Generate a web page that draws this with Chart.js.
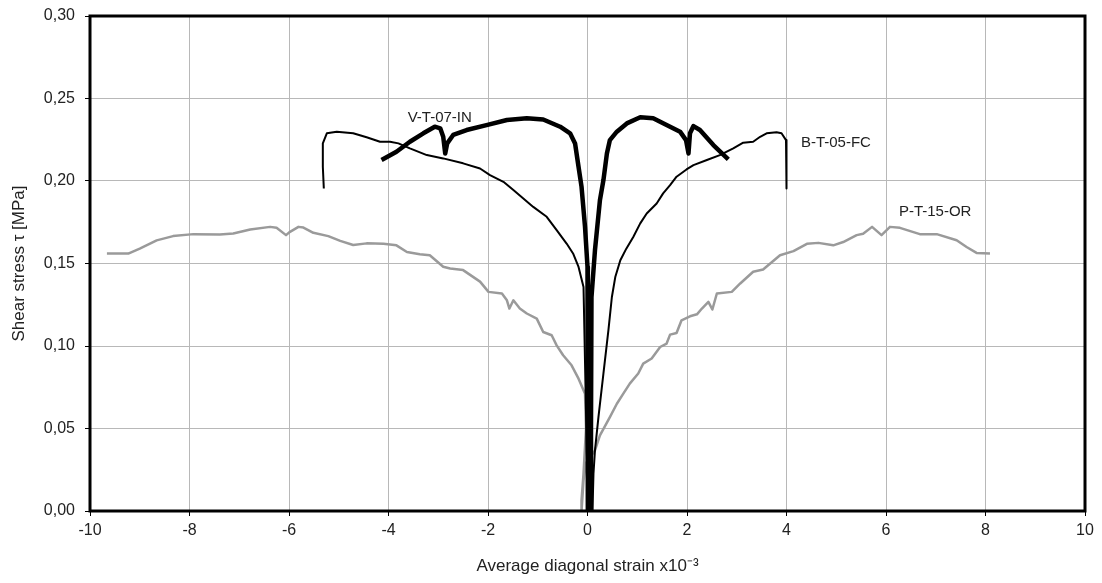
<!DOCTYPE html>
<html>
<head>
<meta charset="utf-8">
<script src="https://cdn.jsdelivr.net/npm/chart.js@4.4.1/dist/chart.umd.min.js"></script>
<style>
    html, body { margin: 0; padding: 0; background: #fff; }
    #wrap { width: 1102px; height: 583px; }
</style>
</head>
<body>
<div id="wrap"><canvas id="stressChart"></canvas></div>
<script>
// Axis ticks
const xTicks = [-10, -8, -6, -4, -2, 0, 2, 4, 6, 8, 10];
const yTicks = [0, 0.05, 0.10, 0.15, 0.20, 0.25, 0.30];

// V-T-07-IN (thick black): [strain x10^-3, stress MPa]
const vt07 = [
    [-4.14, 0.2127], [-3.84, 0.2177], [-3.57, 0.2238], [-3.30, 0.2289], [-3.07, 0.2329],
    [-2.96, 0.2319], [-2.90, 0.2268], [-2.86, 0.2167], [-2.82, 0.2228], [-2.70, 0.2279],
    [-2.43, 0.2309], [-2.03, 0.2339], [-1.62, 0.2370], [-1.22, 0.2380], [-0.89, 0.2373],
    [-0.55, 0.2329], [-0.35, 0.2289], [-0.25, 0.2228], [-0.18, 0.2086], [-0.12, 0.1965],
    [-0.05, 0.1722], [0.00, 0.1480], [0.01, 0.0800], [0.00, 0.0120], [0.01, 0.0000],
    [0.06, 0.0000], [0.07, 0.0500], [0.08, 0.1297], [0.15, 0.1580], [0.25, 0.1884],
    [0.32, 0.2005], [0.39, 0.2167], [0.45, 0.2248], [0.59, 0.2299], [0.79, 0.2349],
    [1.06, 0.2386], [1.32, 0.2380], [1.59, 0.2339], [1.86, 0.2299], [1.98, 0.2248],
    [2.03, 0.2167], [2.06, 0.2289], [2.13, 0.2333], [2.26, 0.2309], [2.53, 0.2218],
    [2.83, 0.2131]
];

// B-T-05-FC (thin black)
const bt05 = [
    [-5.30, 0.1955], [-5.32, 0.2086], [-5.32, 0.2228], [-5.24, 0.2289], [-5.04, 0.2299],
    [-4.71, 0.2289], [-4.44, 0.2265], [-4.17, 0.2238], [-3.97, 0.2238], [-3.80, 0.2228],
    [-3.57, 0.2198], [-3.23, 0.2157], [-2.90, 0.2137], [-2.50, 0.2107], [-2.16, 0.2076],
    [-1.96, 0.2036], [-1.69, 0.1995], [-1.49, 0.1945], [-1.09, 0.1843], [-0.82, 0.1783],
    [-0.62, 0.1702], [-0.42, 0.1621], [-0.29, 0.1561], [-0.18, 0.1479], [-0.08, 0.1358],
    [-0.03, 0.0600], [0.00, 0.0200], [0.02, 0.0000], [0.10, 0.0000], [0.12, 0.0226],
    [0.15, 0.0367], [0.22, 0.0569], [0.32, 0.0833], [0.42, 0.1095], [0.49, 0.1297],
    [0.56, 0.1420], [0.66, 0.1520], [0.78, 0.1590], [0.92, 0.1661], [1.06, 0.1743],
    [1.19, 0.1803], [1.39, 0.1864], [1.52, 0.1925], [1.66, 0.1975], [1.79, 0.2026],
    [1.99, 0.2070], [2.13, 0.2096], [2.40, 0.2127], [2.66, 0.2157], [2.93, 0.2198],
    [3.13, 0.2232], [3.33, 0.2238], [3.47, 0.2268], [3.60, 0.2289], [3.80, 0.2295],
    [3.90, 0.2289], [3.99, 0.2248], [4.00, 0.2086], [4.00, 0.1955]
];

// P-T-15-OR (grey)
const pt15 = [
    [-9.66, 0.1560], [-9.23, 0.1560], [-9.00, 0.1590], [-8.66, 0.1640], [-8.33, 0.1666],
    [-7.92, 0.1678], [-7.39, 0.1676], [-7.12, 0.1682], [-6.78, 0.1706], [-6.38, 0.1722],
    [-6.25, 0.1716], [-6.06, 0.1672], [-5.98, 0.1692], [-5.81, 0.1722], [-5.71, 0.1718],
    [-5.51, 0.1686], [-5.21, 0.1666], [-4.97, 0.1637], [-4.71, 0.1612], [-4.44, 0.1622],
    [-4.10, 0.1620], [-3.84, 0.1610], [-3.63, 0.1570], [-3.37, 0.1556], [-3.17, 0.1550],
    [-2.90, 0.1480], [-2.76, 0.1470], [-2.50, 0.1460], [-2.16, 0.1390], [-1.99, 0.1328],
    [-1.72, 0.1318], [-1.62, 0.1277], [-1.57, 0.1227], [-1.49, 0.1277], [-1.36, 0.1227],
    [-1.22, 0.1197], [-1.02, 0.1166], [-0.89, 0.1085], [-0.72, 0.1065], [-0.62, 0.1004],
    [-0.49, 0.0944], [-0.32, 0.0883], [-0.18, 0.0802], [-0.05, 0.0711], [-0.03, 0.0500],
    [-0.08, 0.0226], [-0.12, 0.0064], [-0.12, 0.0000], [-0.08, 0.0185], [-0.03, 0.0290],
    [0.15, 0.0367], [0.25, 0.0458], [0.45, 0.0569], [0.59, 0.0650], [0.72, 0.0711],
    [0.85, 0.0772], [1.02, 0.0833], [1.12, 0.0893], [1.29, 0.0924], [1.46, 0.0994],
    [1.59, 0.1015], [1.66, 0.1069], [1.79, 0.1079], [1.89, 0.1156], [2.06, 0.1180],
    [2.20, 0.1192], [2.30, 0.1227], [2.43, 0.1267], [2.51, 0.1221], [2.60, 0.1318],
    [2.90, 0.1328], [3.07, 0.1379], [3.33, 0.1450], [3.53, 0.1464], [3.87, 0.1550],
    [4.14, 0.1575], [4.41, 0.1619], [4.64, 0.1625], [4.94, 0.1610], [5.14, 0.1630],
    [5.41, 0.1672], [5.54, 0.1680], [5.72, 0.1722], [5.91, 0.1672], [6.08, 0.1722],
    [6.28, 0.1716], [6.68, 0.1678], [7.02, 0.1678], [7.42, 0.1641], [7.62, 0.1600],
    [7.82, 0.1564], [8.09, 0.1560]
];

// Curve labels: text and anchor in data coordinates
const curveLabels = ['V-T-07-IN', 'B-T-05-FC', 'P-T-15-OR'];
const labelX = [-2.97, 4.29, 6.26];
const labelY = [0.2384, 0.2233, 0.1814];
const labelAlign = ['center', 'left', 'left'];

const toPoints = arr => arr.map(p => ({ x: p[0], y: p[1] }));
const fontFamily = '"Liberation Sans", Arial, sans-serif';

// Thick frame round the plot area plus curve labels
const framePlugin = {
    id: 'frame',
    afterDatasetsDraw(chart) {
        const { ctx, chartArea: a, scales } = chart;
        ctx.save();
        ctx.fillStyle = '#222';
        ctx.font = '15px ' + fontFamily;
        ctx.textBaseline = 'middle';
        curveLabels.forEach((t, i) => {
            ctx.textAlign = labelAlign[i];
            ctx.fillText(t, scales.x.getPixelForValue(labelX[i]), scales.y.getPixelForValue(labelY[i]));
        });
        ctx.strokeStyle = '#000';
        ctx.lineWidth = 3;
        ctx.strokeRect(a.left, a.top, a.right - a.left, a.bottom - a.top);
        ctx.restore();
    }
};

const ctx = document.getElementById('stressChart').getContext('2d');
new Chart(ctx, {
    type: 'scatter',
    data: {
        datasets: [{
            label: 'V-T-07-IN',
            data: toPoints(vt07),
            showLine: true,
            borderColor: '#000',
            borderWidth: 4.5,
            pointRadius: 0,
            tension: 0
        }, {
            label: 'B-T-05-FC',
            data: toPoints(bt05),
            showLine: true,
            borderColor: '#000',
            borderWidth: 2,
            pointRadius: 0,
            tension: 0
        }, {
            label: 'P-T-15-OR',
            data: toPoints(pt15),
            showLine: true,
            borderColor: '#9a9a9a',
            borderWidth: 2.5,
            pointRadius: 0,
            tension: 0
        }]
    },
    options: {
        responsive: true,
        maintainAspectRatio: false,
        animation: false,
        layout: { padding: { left: 0, right: 17, top: 16, bottom: 0 } },
        plugins: {
            legend: { display: false },
            tooltip: { enabled: false }
        },
        elements: { line: { borderJoinStyle: 'round', borderCapStyle: 'butt' } },
        scales: {
            x: {
                type: 'linear',
                min: -10,
                max: 10,
                afterBuildTicks: s => { s.ticks = xTicks.map(v => ({ value: v })); },
                afterFit: s => { s.height = 72; },
                grid: { color: '#b8b8b8', borderDash: [3, 1], tickColor: '#000', tickLength: 5 },
                border: { display: false },
                ticks: {
                    color: '#222',
                    font: { family: fontFamily, size: 16 },
                    padding: 5,
                    maxRotation: 0
                },
                title: {
                    display: true,
                    text: 'Average diagonal strain x10\u207B\u00B3',
                    color: '#222',
                    font: { family: fontFamily, size: 17 },
                    padding: { top: 4, bottom: 6 }
                }
            },
            y: {
                type: 'linear',
                min: 0,
                max: 0.3,
                afterBuildTicks: s => { s.ticks = yTicks.map(v => ({ value: v })); },
                afterFit: s => { s.width = 90; s.paddingTop = 0; s.paddingBottom = 0; },
                grid: { color: '#b8b8b8', borderDash: [3, 1], tickColor: '#000', tickLength: 5 },
                border: { display: false },
                ticks: {
                    color: '#222',
                    font: { family: fontFamily, size: 16 },
                    padding: 10,
                    callback: v => v.toFixed(2).replace('.', ',')
                },
                title: {
                    display: true,
                    text: 'Shear stress \u03C4 [MPa]',
                    color: '#222',
                    font: { family: fontFamily, size: 17 },
                    padding: { top: 9, bottom: 4 }
                }
            }
        }
    },
    plugins: [framePlugin]
});
</script>
</body>
</html>
